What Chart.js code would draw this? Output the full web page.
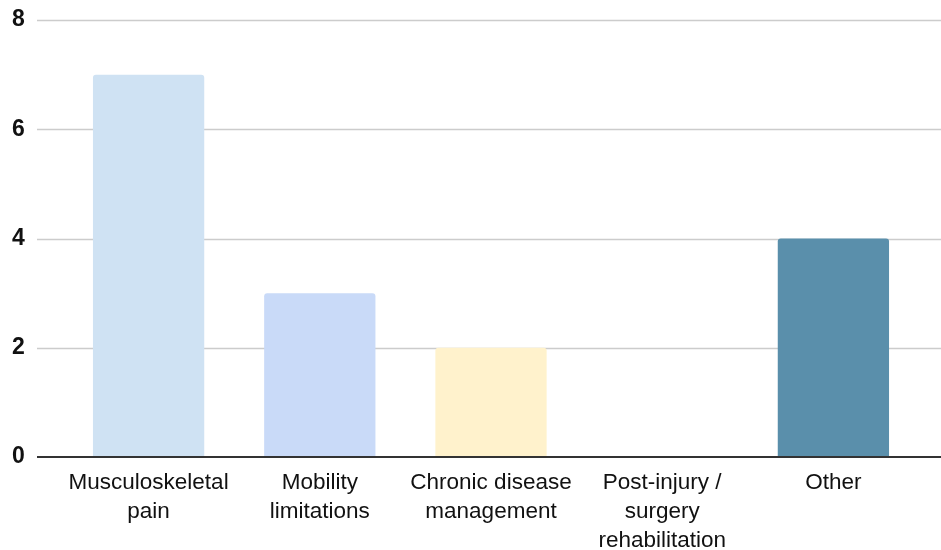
<!DOCTYPE html>
<html>
<head>
<meta charset="utf-8">
<script src="https://cdn.jsdelivr.net/npm/chart.js@4"></script>
<style>
  body { margin: 0; background: #fff; }
  #wrap { width: 941px; height: 550px; position: relative; }
</style>
</head>
<body>
<div id="wrap"><canvas id="reasonsChart"></canvas></div>
<script>
const categories = [
  ['Musculoskeletal', 'pain'],
  ['Mobility', 'limitations'],
  ['Chronic disease', 'management'],
  ['Post-injury /', 'surgery', 'rehabilitation'],
  ['Other']
];
const counts = [7, 3, 2, 0, 4];
const barColors = ['#cfe2f3', '#c9daf8', '#fff2cc', '#d9d9d9', '#5a8fab'];
const yTicks = [0, 2, 4, 6, 8];

// grid lines run wider than the bars, so draw them by hand
const gridLines = {
  id: 'gridLines',
  beforeDatasetsDraw(chart) {
    const ctx = chart.ctx;
    const y = chart.scales.y;
    ctx.save();
    ctx.strokeStyle = '#cccccc';
    ctx.lineWidth = 1.5;
    yTicks.forEach(function(v) {
      if (v === 0) return;
      const py = Math.round(y.getPixelForValue(v)) + 0.5;
      ctx.beginPath();
      ctx.moveTo(37, py);
      ctx.lineTo(chart.width, py);
      ctx.stroke();
    });
    ctx.restore();
  },
  afterDatasetsDraw(chart) {
    const ctx = chart.ctx;
    const py = chart.scales.y.getPixelForValue(0);
    ctx.save();
    ctx.strokeStyle = '#333333';
    ctx.lineWidth = 2;
    ctx.beginPath();
    ctx.moveTo(37, py);
    ctx.lineTo(chart.width, py);
    ctx.stroke();
    ctx.restore();
  }
};

new Chart('reasonsChart', {
  type: 'bar',
  data: {
    labels: categories,
    datasets: [{
      data: counts,
      backgroundColor: barColors,
      borderRadius: { topLeft: 3, topRight: 3 },
      borderSkipped: 'bottom',
      barPercentage: 0.65,
      categoryPercentage: 1.0
    }]
  },
  options: {
    responsive: true,
    maintainAspectRatio: false,
    animation: false,
    layout: { padding: { top: 20, right: 22, left: 12, bottom: 0 } },
    plugins: {
      legend: { display: false },
      tooltip: { enabled: false }
    },
    scales: {
      x: {
        grid: { display: false, drawTicks: false },
        border: { display: false },
        ticks: {
          color: '#111',
          padding: 12,
          font: { family: 'Liberation Sans, Arial, sans-serif', size: 22.5, lineHeight: 1.27 },
          maxRotation: 0,
          autoSkip: false
        },
        afterFit(scale) { scale.height = 93; }
      },
      y: {
        min: 0,
        max: 8,
        grid: { display: false, drawTicks: false },
        border: { display: false },
        ticks: {
          stepSize: 2,
          color: '#111',
          padding: 0,
          crossAlign: 'far',
          font: { family: 'Liberation Sans, Arial, sans-serif', size: 23, weight: 'bold' }
        },
        afterFit(scale) { scale.width = 51; }
      }
    }
  },
  plugins: [gridLines]
});
</script>
</body>
</html>
